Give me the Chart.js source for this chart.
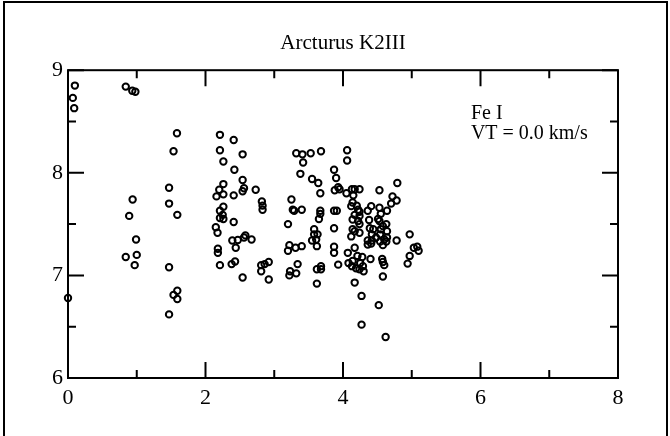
<!DOCTYPE html>
<html>
<head>
<meta charset="utf-8">
<script src="https://cdn.jsdelivr.net/npm/chart.js@4.4.1/dist/chart.umd.min.js"></script>
<style>
  html, body { margin: 0; padding: 0; background: #fff; }
  #wrap { position: relative; width: 670px; height: 436px; }
  #frame { position: absolute; left: 3px; top: 1px; width: 661px; height: 440px;
           border-left: 2px solid #000; border-top: 2px solid #000; border-right: 2px solid #000; }
  canvas { position: absolute; left: 0; top: 0; }
</style>
</head>
<body>
<div id="wrap">
  <div id="frame"></div>
  <canvas id="c" width="670" height="436"></canvas>
</div>
<script>
// ---- Data ----
const chartTitle = "Arcturus K2III";
const noteLines = ["Fe I", "VT = 0.0 km/s"];

const excitation = [
  0.10, 0.07, 0.09, 0.00,
  0.84, 0.935, 0.98, 0.94, 0.89, 0.99, 0.84, 1.00, 0.97,
  1.585, 1.535, 1.47, 1.47, 1.59, 1.47, 1.59, 1.535, 1.59, 1.47,
  2.21, 2.41, 2.21, 2.54, 2.26, 2.42, 2.54, 2.26, 2.20, 2.56, 2.54, 2.73, 2.16, 2.26, 2.41,
  2.82, 2.26, 2.21, 2.83, 2.83, 2.25, 2.21, 2.26, 2.41, 2.15, 2.175, 2.58, 2.56, 2.67, 2.39,
  2.47, 2.44, 2.18, 2.18, 2.38, 2.43, 2.21, 2.54, 2.81, 2.81, 2.92, 2.86, 2.92,
  3.32, 3.41, 3.53, 3.68, 3.42, 3.38, 3.55, 3.64, 3.67, 3.25, 3.27, 3.29, 3.40, 3.67, 3.67,
  3.65, 3.20, 3.58, 3.58, 3.63, 3.61, 3.55, 3.62, 3.22, 3.40, 3.31, 3.20, 3.34, 3.23, 3.22,
  3.32, 3.62, 3.68, 3.68, 3.62,
  4.06, 4.06, 3.87, 3.90, 3.88, 3.93, 3.95, 4.05, 4.13, 4.17, 4.24, 4.15, 3.87, 3.91, 4.14,
  4.20, 4.12, 4.22, 4.24, 4.17, 4.24, 4.14, 4.22, 4.24, 3.87, 4.14, 4.17, 4.12, 4.24, 3.87,
  3.87, 3.93, 4.17, 4.07, 4.21, 4.28, 4.14, 4.08, 4.13, 4.19, 4.24, 4.29, 4.30, 4.25, 4.17,
  4.27, 4.27,
  4.79, 4.53, 4.72, 4.78, 4.70, 4.41, 4.53, 4.64, 4.36, 4.55, 4.38, 4.53, 4.51, 4.63, 4.58,
  4.44, 4.55, 4.64, 4.39, 4.42, 4.54, 4.64, 4.48, 4.36, 4.42, 4.54, 4.60, 4.63, 4.78, 4.97,
  4.41, 4.36, 4.58, 5.03, 5.08, 5.10, 4.97, 4.94, 4.40, 4.57, 4.58, 4.60, 4.58, 4.52, 4.62
];
const abundance = [
  8.85, 8.73, 8.63, 6.78,
  8.84, 8.80, 8.79, 7.74, 7.58, 7.35, 7.18, 7.20, 7.10,
  8.385, 8.21, 7.855, 7.70, 7.59, 7.08, 6.85, 6.81, 6.77, 6.62,
  8.37, 8.32, 8.22, 8.18, 8.11, 8.03, 7.93, 7.89, 7.835, 7.85, 7.82, 7.835, 7.77, 7.79, 7.78,
  7.72, 7.67, 7.63, 7.68, 7.64, 7.59, 7.56, 7.55, 7.52, 7.47, 7.415, 7.39, 7.37, 7.35, 7.34,
  7.345, 7.27, 7.26, 7.22, 7.11, 7.135, 7.10, 6.98, 7.10, 7.04, 7.13, 7.11, 6.96,
  8.19, 8.18, 8.19, 8.21, 8.10, 7.99, 7.94, 7.90, 7.80, 7.74, 7.64, 7.63, 7.64, 7.63, 7.60,
  7.55, 7.50, 7.45, 7.40, 7.40, 7.35, 7.34, 7.285, 7.295, 7.285, 7.27, 7.24, 7.11, 7.04, 7.00,
  7.02, 7.06, 7.09, 7.06, 6.92,
  8.22, 8.12, 8.03, 7.95, 7.83, 7.86, 7.84, 7.80, 7.84, 7.84, 7.84, 7.78, 7.63, 7.63, 7.71,
  7.68, 7.675, 7.64, 7.62, 7.59, 7.58, 7.545, 7.53, 7.50, 7.46, 7.45, 7.43, 7.38, 7.415, 7.28,
  7.22, 7.105, 7.27, 7.22, 7.19, 7.18, 7.14, 7.12, 7.09, 7.07, 7.06, 7.09, 7.04, 7.12, 6.93,
  6.80, 6.52,
  7.90, 7.83, 7.77, 7.73, 7.70, 7.675, 7.66, 7.63, 7.63, 7.60, 7.54, 7.53, 7.55, 7.50, 7.48,
  7.45, 7.45, 7.43, 7.46, 7.40, 7.40, 7.37, 7.37, 7.34, 7.34, 7.33, 7.35, 7.33, 7.34, 7.40,
  7.31, 7.30, 7.295, 7.27, 7.28, 7.24, 7.19, 7.115, 7.16, 7.16, 7.13, 7.10, 6.99, 6.71, 6.40
];

const xRange = [0, 8];
const yRange = [6, 9];
const xMajorTicks = [0, 2, 4, 6, 8];
const xMinorTicks = [1, 3, 5, 7];
const yMajorTicks = [6, 7, 8, 9];
const yMinorTicks = [6.5, 7.5, 8.5];

const points = excitation.map((x, i) => ({ x: x, y: abundance[i] }));

const SERIF = "'Liberation Serif', 'Times New Roman', serif";

const framePlugin = {
  id: 'frameTicks',
  afterDatasetsDraw(chart) {
    const ctx = chart.ctx, a = chart.chartArea;
    const xs = chart.scales.x, ys = chart.scales.y;
    ctx.save();
    ctx.strokeStyle = '#000';
    ctx.lineWidth = 2;
    ctx.strokeRect(a.left, a.top, a.right - a.left, a.bottom - a.top);
    const major = 16, minor = 8;
    ctx.beginPath();
    const xt = (v, len) => {
      const px = xs.getPixelForValue(v);
      ctx.moveTo(px, a.bottom); ctx.lineTo(px, a.bottom - len);
      ctx.moveTo(px, a.top); ctx.lineTo(px, a.top + len);
    };
    const yt = (v, len) => {
      const py = ys.getPixelForValue(v);
      ctx.moveTo(a.left, py); ctx.lineTo(a.left + len, py);
      ctx.moveTo(a.right, py); ctx.lineTo(a.right - len, py);
    };
    xMajorTicks.forEach(v => xt(v, major));
    xMinorTicks.forEach(v => xt(v, minor));
    yMajorTicks.forEach(v => yt(v, major));
    yMinorTicks.forEach(v => yt(v, minor));
    ctx.stroke();
    // annotation
    ctx.fillStyle = '#000';
    ctx.font = "20px " + SERIF;
    ctx.textBaseline = 'middle';
    ctx.textAlign = 'left';
    const nx = xs.getPixelForValue(5.86);
    const ny0 = ys.getPixelForValue(8.58);
    noteLines.forEach((t, i) => ctx.fillText(t, nx, ny0 + i * 20));
    ctx.restore();
  }
};

new Chart(document.getElementById('c'), {
  type: 'scatter',
  data: {
    datasets: [{
      label: 'Fe I',
      data: points,
      pointStyle: 'circle',
      pointRadius: 3.2,
      pointHoverRadius: 3.2,
      pointBorderWidth: 2,
      borderColor: '#000',
      pointBorderColor: '#000',
      pointBackgroundColor: 'rgba(255,255,255,0)',
      clip: false
    }]
  },
  options: {
    responsive: false,
    animation: false,
    events: [],
    layout: { padding: { left: 0, right: 52, top: 0, bottom: 0 } },
    plugins: {
      legend: { display: false },
      tooltip: { enabled: false },
      title: {
        display: true,
        fullSize: false,
        text: chartTitle,
        color: '#000',
        font: { family: SERIF, size: 21, weight: 'normal', lineHeight: 1.2 },
        padding: { top: 31, bottom: 14 }
      }
    },
    scales: {
      x: {
        type: 'linear',
        min: xRange[0], max: xRange[1],
        afterBuildTicks: (s) => { s.ticks = xMajorTicks.map(v => ({ value: v })); },
        ticks: { color: '#000', font: { family: SERIF, size: 22 }, padding: 7, maxRotation: 0 },
        grid: { display: false, drawTicks: false },
        border: { display: false },
        afterFit: (s) => { s.height = 58; }
      },
      y: {
        type: 'linear',
        min: yRange[0], max: yRange[1],
        afterBuildTicks: (s) => { s.ticks = yMajorTicks.map(v => ({ value: v })); },
        ticks: { color: '#000', font: { family: SERIF, size: 22 }, padding: 5 },
        grid: { display: false, drawTicks: false },
        border: { display: false },
        afterFit: (s) => { s.width = 68; }
      }
    }
  },
  plugins: [framePlugin]
});
</script>
</body>
</html>
